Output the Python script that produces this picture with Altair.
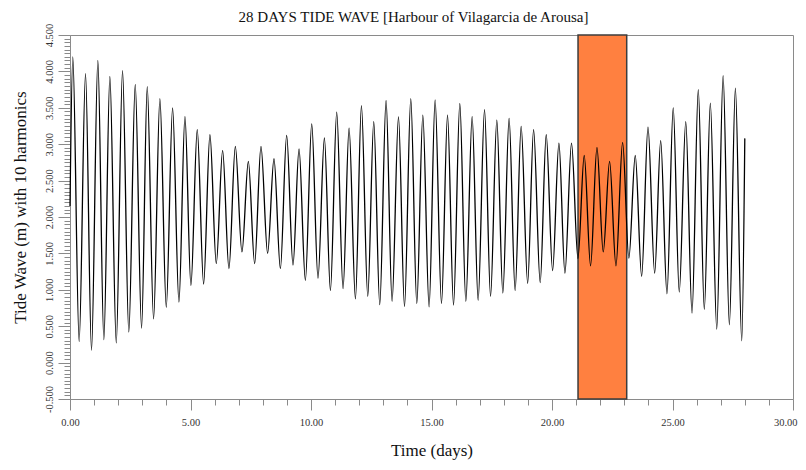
import altair as alt
import pandas as pd

# ---- data ----
start_day, start_level = 0.0, 2.15
end_day, end_level = 28.0, 3.08

high_day = [0.116, 0.644, 1.156, 1.654, 2.18, 2.707, 3.205, 3.73, 4.257, 4.77,
            5.28, 5.806, 6.333, 6.86, 7.40, 7.924, 8.464, 8.99, 9.503, 10.03,
            10.556, 11.067, 11.58, 12.093, 12.604, 13.115, 13.63, 14.14, 14.64, 15.15,
            15.665, 16.175, 16.686, 17.20, 17.71, 18.22, 18.72, 19.236, 19.76, 20.287,
            20.81, 21.337, 21.865, 22.39, 22.93, 23.455, 23.983, 24.51, 25.03, 25.55,
            26.07, 26.57, 27.10, 27.61]
high_level = [4.20, 3.97, 4.15, 3.93, 4.01, 3.82, 3.79, 3.625, 3.50, 3.38,
              3.20, 3.13, 2.915, 2.97, 2.765, 2.97, 2.80, 3.12, 2.935, 3.28,
              3.085, 3.44, 3.22, 3.53, 3.31, 3.60, 3.375, 3.625, 3.40, 3.61,
              3.40, 3.56, 3.38, 3.475, 3.33, 3.355, 3.245, 3.20, 3.13, 3.015,
              3.015, 2.845, 2.955, 2.765, 3.025, 2.845, 3.235, 3.05, 3.50, 3.31,
              3.75, 3.565, 3.94, 3.77]

low_day = [0.38, 0.893, 1.405, 1.92, 2.44, 2.97, 3.468, 3.995, 4.52, 5.017,
           5.544, 6.07, 6.595, 7.135, 7.662, 8.20, 8.73, 9.253, 9.767, 10.29,
           10.806, 11.33, 11.844, 12.355, 12.853, 13.364, 13.88, 14.39, 14.90, 15.415,
           15.914, 16.425, 16.935, 17.45, 17.96, 18.47, 18.99, 19.51, 20.025, 20.536,
           21.076, 21.60, 22.126, 22.654, 23.19, 23.72, 24.26, 24.77, 25.28, 25.81,
           26.32, 26.836, 27.36, 27.874]
low_level = [0.29, 0.17, 0.315, 0.27, 0.42, 0.475, 0.60, 0.76, 0.83, 1.06,
             1.08, 1.36, 1.29, 1.52, 1.36, 1.50, 1.29, 1.34, 1.13, 1.16,
             0.99, 1.015, 0.875, 0.91, 0.795, 0.84, 0.77, 0.81, 0.765, 0.81,
             0.79, 0.84, 0.855, 0.91, 0.955, 0.99, 1.09, 1.10, 1.265, 1.23,
             1.43, 1.33, 1.52, 1.33, 1.435, 1.185, 1.23, 0.945, 0.97, 0.68,
             0.73, 0.46, 0.52, 0.30]

window_start, window_end = 21.08, 23.10
y_bottom, y_top = -0.5, 4.5

x_tick_values = list(range(0, 31))
y_tick_values = [round(-0.5 + 0.05 * i, 2) for i in range(101)]

# ---- tables ----
rows = [(start_day, start_level)]
rows += list(zip(high_day, high_level))
rows += list(zip(low_day, low_level))
rows += [(end_day, end_level)]
tide = pd.DataFrame(rows, columns=["day", "level"]).sort_values("day")

band = pd.DataFrame({"start": [window_start], "end": [window_end],
                     "bottom": [y_bottom], "top": [y_top]})

FONT = "Liberation Serif"

x_scale = alt.Scale(domain=[0, 30], nice=False, zero=False)
y_scale = alt.Scale(domain=[y_bottom, y_top], nice=False, zero=False)

x_axis = alt.Axis(
    title="Time (days)", values=x_tick_values,
    labelExpr="datum.value % 5 === 0 ? format(datum.value, '.2f') : ''",
    tickSize={"condition": {"test": "datum.value % 5 === 0", "value": 11}, "value": 6},
    labelAlign={"condition": {"test": "datum.value === 30", "value": "right"}, "value": "center"},
    labelOffset={"condition": {"test": "datum.value === 30", "value": 4}, "value": 0},
    tickColor="#8a8a8a", domainColor="#8a8a8a", grid=False,
    labelFont=FONT, labelFontSize=10.5, labelColor="#333333", labelPadding=7,
    labelOverlap=False, labelFlush=False, labelBound=False,
    titleFont=FONT, titleFontSize=17, titleFontWeight="normal", titleColor="#111111",
    titlePadding=15,
)
y_axis = alt.Axis(
    title="Tide Wave (m) with 10 harmonics", values=y_tick_values,
    labelExpr="abs(datum.value * 2 - round(datum.value * 2)) < 0.001 ? replace(format(datum.value, '.3f'), '\u2212', '-') : ''",
    tickSize={"condition": {"test": "abs(datum.value * 2 - round(datum.value * 2)) < 0.001", "value": 12}, "value": 6},
    tickColor="#8a8a8a", domainColor="#8a8a8a", grid=False,
    labelFont=FONT, labelFontSize=10.5, labelColor="#333333",
    labelAngle=270, labelAlign="center", labelBaseline="bottom", labelPadding=4,
    labelOverlap=False, labelFlush=False,
    titleFont=FONT, titleFontSize=17, titleFontWeight="normal", titleColor="#111111",
    titlePadding=15, titleY=172,
)

rect = alt.Chart(band).mark_rect(fill="#FF8040", stroke="#3c3c3c", strokeWidth=1.5).encode(
    x=alt.X("start:Q", scale=x_scale, axis=x_axis),
    x2="end:Q",
    y=alt.Y("bottom:Q", scale=y_scale, axis=y_axis),
    y2="top:Q",
)

line = alt.Chart(tide).mark_line(color="black", strokeWidth=1.3, interpolate="monotone").encode(
    x=alt.X("day:Q", scale=x_scale, axis=x_axis),
    y=alt.Y("level:Q", scale=y_scale, axis=y_axis),
)

chart = alt.layer(rect, line).properties(
    width=723, height=364,
    title=alt.TitleParams("28 DAYS TIDE WAVE [Harbour of Vilagarcia de Arousa]",
                          font=FONT, fontSize=15, fontWeight="normal", color="#111111",
                          anchor="middle", offset=-2, dx=-18),
    autosize=alt.AutoSizeParams(type="none"),
    padding={"left": 62, "top": 27, "right": 5, "bottom": 62},
).configure_view(stroke="#8a8a8a", strokeWidth=1)

chart.save("out.html", embed_options={"renderer": "svg", "actions": False})
